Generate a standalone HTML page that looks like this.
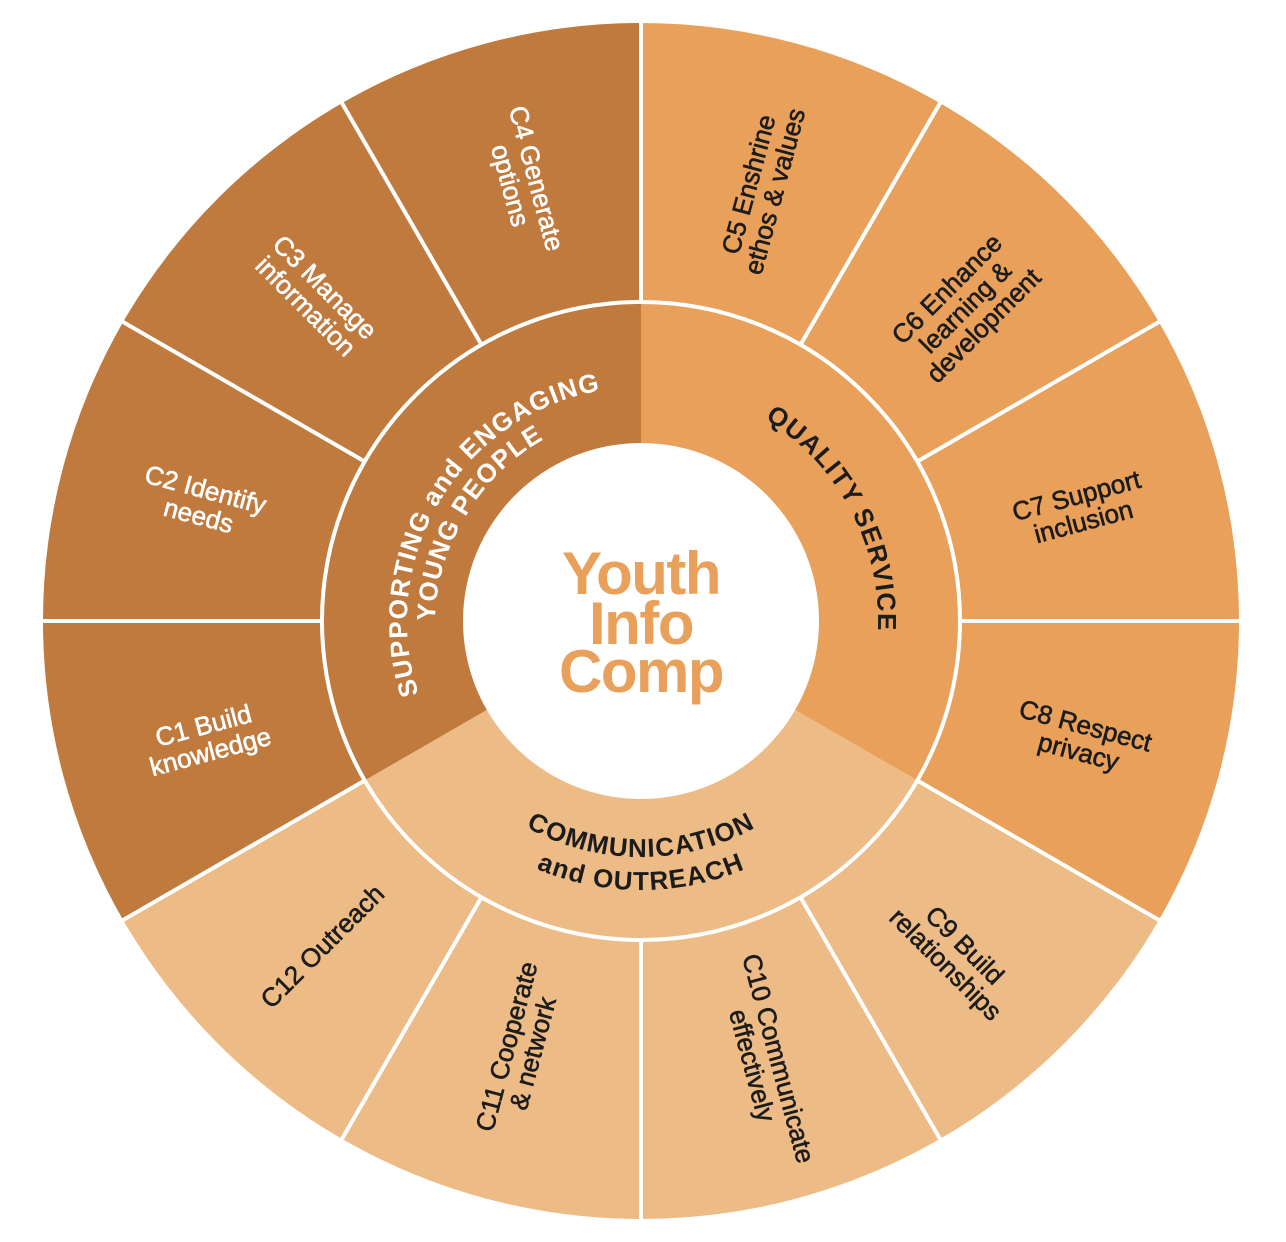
<!DOCTYPE html>
<html><head><meta charset="utf-8"><style>
html,body{margin:0;padding:0;background:#fff;}
svg{display:block;}
text{font-family:"Liberation Sans",sans-serif;}
.o{font-size:26px;text-anchor:middle;stroke-width:0.6;}
.w{fill:#fff;stroke:#fff;}
.d{fill:#1c1c1c;stroke:#1c1c1c;}
.m{font-size:26px;font-weight:bold;text-anchor:middle;letter-spacing:1.2px;}
</style></head><body>
<svg width="1286" height="1242" viewBox="0 0 1286 1242" xmlns="http://www.w3.org/2000/svg">
<defs>
<path id="s1" d="M841.6,741.5 A234,234 0 1 1 440.4,500.5 A234,234 0 1 1 841.6,741.5"/>
<path id="s2" d="M815.8,726.1 A204,204 0 1 1 466.2,515.9 A204,204 0 1 1 815.8,726.1"/>
<path id="q1" d="M431.7,732.2 A237,237 0 1 1 850.3,509.8 A237,237 0 1 1 431.7,732.2"/>
<path id="c1" d="M641,385 A236,236 0 1 0 641,857 A236,236 0 1 0 641,385"/>
<path id="c2" d="M641,352 A269,269 0 1 0 641,890 A269,269 0 1 0 641,352"/>
</defs>
<path d="M641,621 L123.1,920 A598,598 0 0 1 641,23 Z" fill="#C07A3E"/>
<path d="M641,621 L641,23 A598,598 0 0 1 1158.9,920 Z" fill="#E8A05A"/>
<path d="M641,621 L1158.9,920 A598,598 0 0 1 123.1,920 Z" fill="#EDBB85"/>
<g stroke="#fff" stroke-width="4">
<line x1="641" y1="302" x2="641" y2="20"/>
<line x1="800.5" y1="344.7" x2="941.5" y2="100.5"/>
<line x1="917.3" y1="461.5" x2="1161.5" y2="320.5"/>
<line x1="960" y1="621" x2="1242" y2="621"/>
<line x1="917.3" y1="780.5" x2="1161.5" y2="921.5"/>
<line x1="800.5" y1="897.3" x2="941.5" y2="1141.5"/>
<line x1="641" y1="940" x2="641" y2="1222"/>
<line x1="481.5" y1="897.3" x2="340.5" y2="1141.5"/>
<line x1="364.7" y1="780.5" x2="120.5" y2="921.5"/>
<line x1="322" y1="621" x2="40" y2="621"/>
<line x1="364.7" y1="461.5" x2="120.5" y2="320.5"/>
<line x1="481.5" y1="344.7" x2="340.5" y2="100.5"/>
<circle cx="641" cy="621" r="319" fill="none"/>
</g>
<circle cx="641" cy="621" r="178" fill="#fff"/>

<g font-weight="bold" fill="#E8A05A" font-size="60" text-anchor="middle" letter-spacing="-1.5">
<text x="641" y="594">Youth</text>
<text x="641" y="644">Info</text>
<text x="641" y="692">Comp</text>
</g>

<text class="m" fill="#fff"><textPath href="#s1" startOffset="50%">SUPPORTING and ENGAGING</textPath></text>
<text class="m" fill="#fff"><textPath href="#s2" startOffset="50%">YOUNG PEOPLE</textPath></text>
<text class="m" fill="#1c1c1c"><textPath href="#q1" startOffset="50%">QUALITY SERVICE</textPath></text>
<text class="m" fill="#1c1c1c"><textPath href="#c1" startOffset="50%">COMMUNICATION</textPath></text>
<text class="m" fill="#1c1c1c"><textPath href="#c2" startOffset="50%">and OUTREACH</textPath></text>

<g transform="translate(523,182) rotate(75)"><text class="o w" y="-5">C4 Generate</text><text class="o w" y="22">options</text></g>
<g transform="translate(315,297) rotate(45)"><text class="o w" y="-5">C3 Manage</text><text class="o w" y="22">information</text></g>
<g transform="translate(202,503) rotate(15)"><text class="o w" y="-5">C2 Identify</text><text class="o w" y="22">needs</text></g>
<g transform="translate(207,739) rotate(-15)"><text class="o w" y="-5">C1 Build</text><text class="o w" y="22">knowledge</text></g>
<g transform="translate(762,188) rotate(-75)"><text class="o d" y="-5">C5 Enshrine</text><text class="o d" y="22">ethos &amp; values</text></g>
<g transform="translate(963,305) rotate(-45)"><text class="o d" y="-14">C6 Enhance</text><text class="o d" y="12">learning &amp;</text><text class="o d" y="38">development</text></g>
<g transform="translate(1080,509) rotate(-15)"><text class="o d" y="-5">C7 Support</text><text class="o d" y="22">inclusion</text></g>
<g transform="translate(1082,739) rotate(15)"><text class="o d" y="-5">C8 Respect</text><text class="o d" y="22">privacy</text></g>
<g transform="translate(955,955) rotate(45)"><text class="o d" y="-5">C9 Build</text><text class="o d" y="22">relationships</text></g>
<g transform="translate(765,1062) rotate(75)"><text class="o d" y="-5">C10 Communicate</text><text class="o d" y="22">effectively</text></g>
<g transform="translate(520,1050) rotate(-75)"><text class="o d" y="-5">C11 Cooperate</text><text class="o d" y="22">&amp; network</text></g>
<g transform="translate(323,947) rotate(-45)"><text class="o d" y="8">C12 Outreach</text></g>
</svg>
</body></html>
